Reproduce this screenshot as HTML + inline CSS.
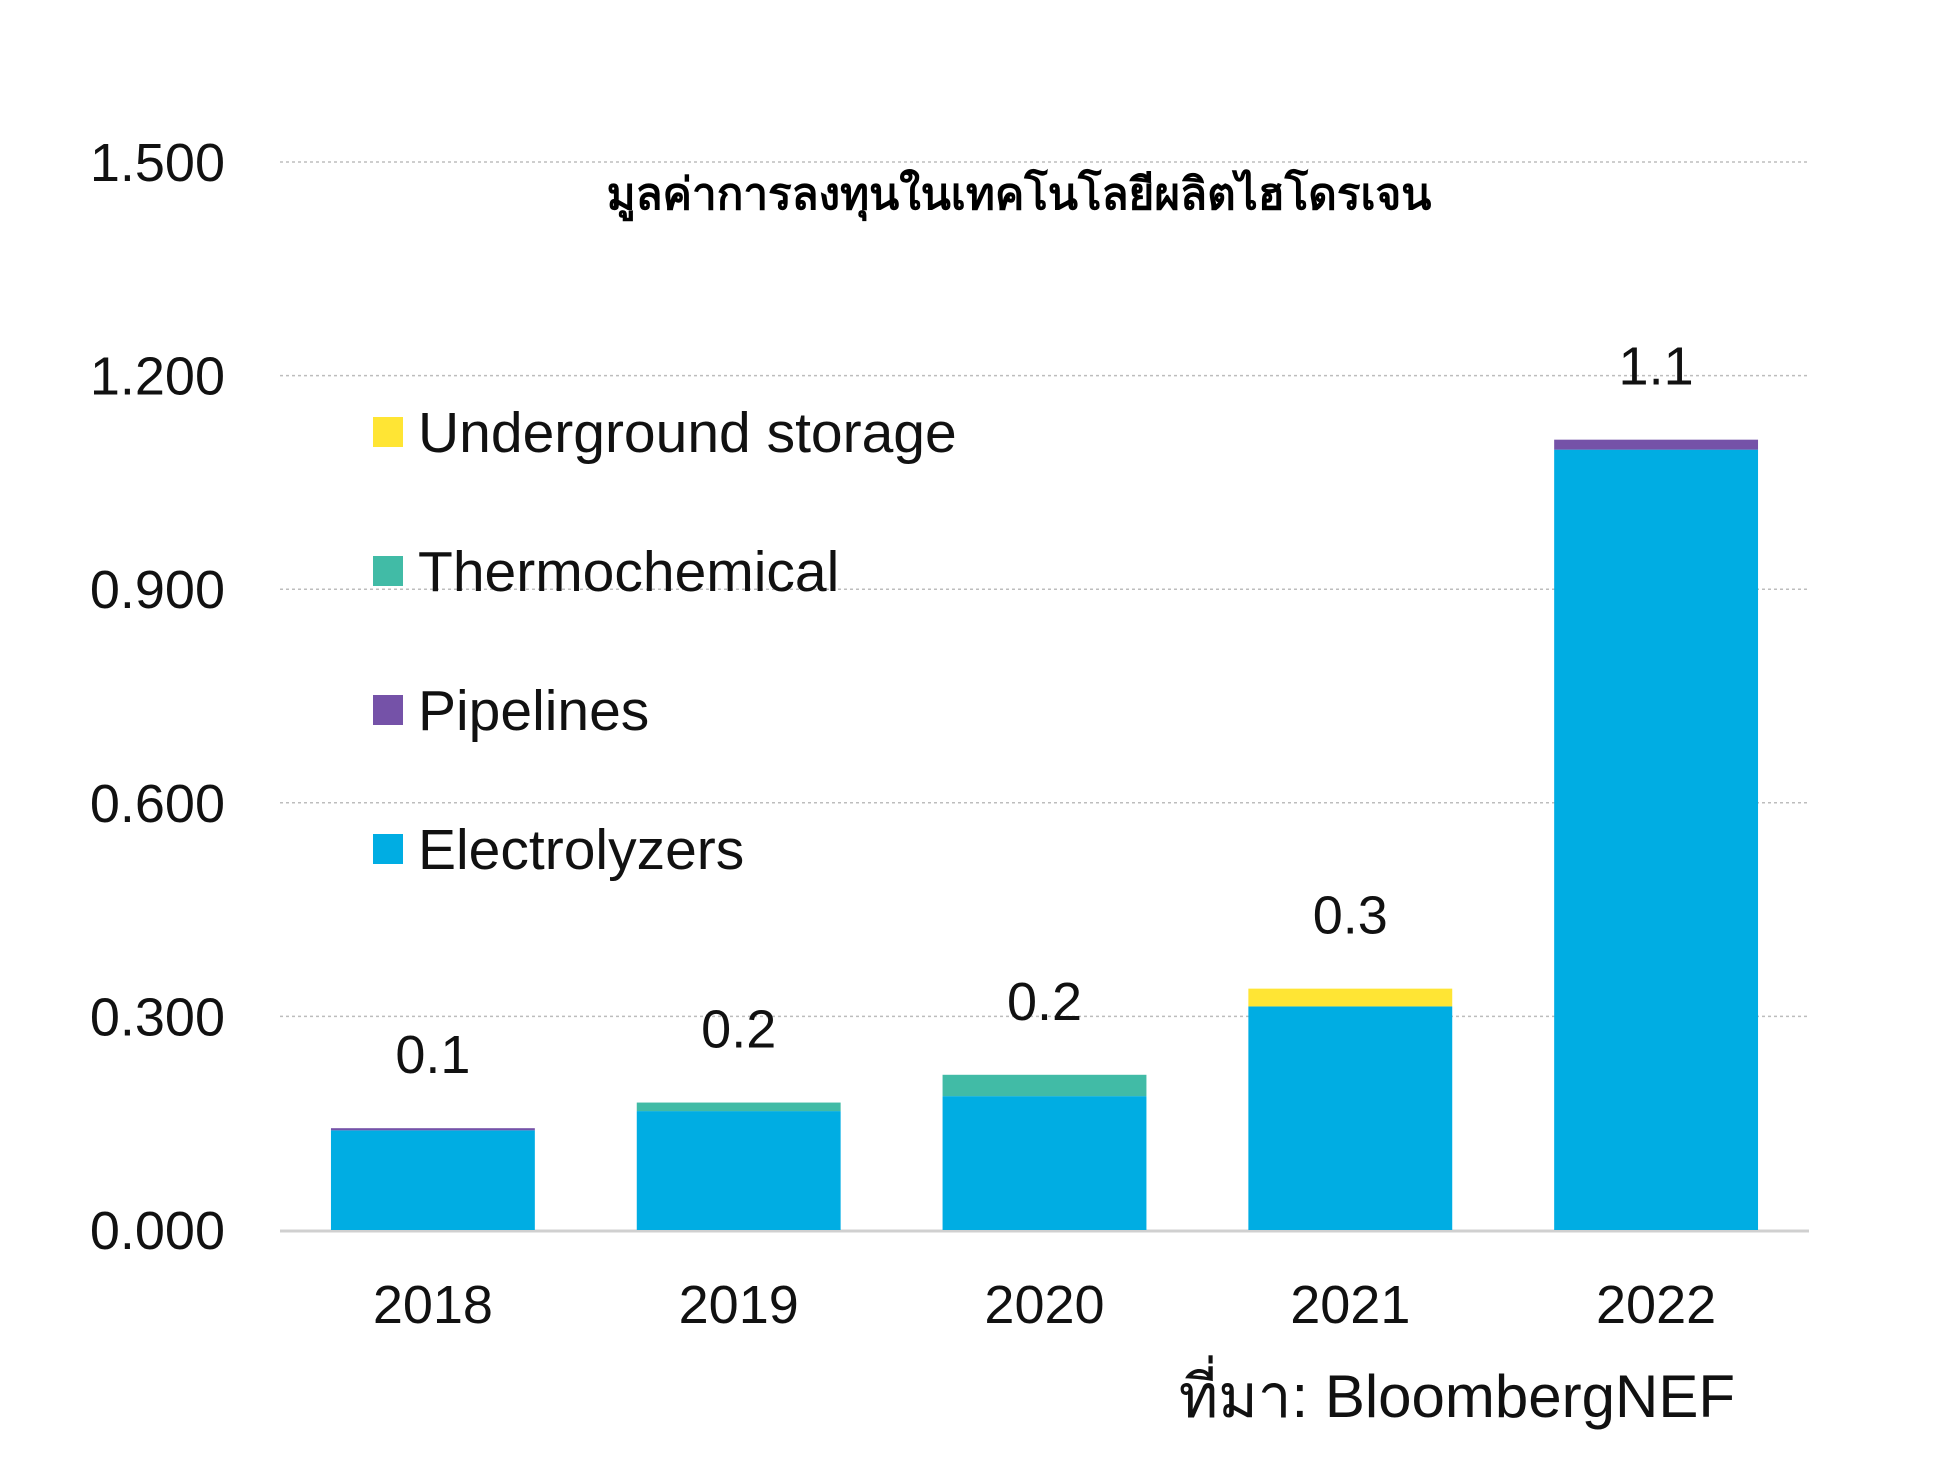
<!DOCTYPE html>
<html><head><meta charset="utf-8">
<style>
html,body{margin:0;padding:0;background:#fff;}
svg{display:block;font-family:"Liberation Sans","Noto Sans CJK SC",sans-serif;}
</style></head>
<body>
<svg id="chart" width="1951" height="1457" viewBox="0 0 1951 1457" xmlns="http://www.w3.org/2000/svg">
<g id="grid"></g>
<g id="yticks"></g>
<g id="bars"></g>
<g id="labels"></g>
<g id="xticks"></g>
<text x="1019" y="209" text-anchor="middle" font-size="44" font-weight="bold" font-family="'Liberation Sans','Noto Sans CJK SC',sans-serif">มูลค่าการลงทุนในเทคโนโลยีผลิตไฮโดรเจน</text>
<g id="legend"></g>
<text x="1735" y="1417" text-anchor="end" font-size="60" fill="#111">ที่มา: BloombergNEF</text>
</svg>
<script>
const categories = ["2018","2019","2020","2021","2022"];
const electrolyzers = [0.140,0.167,0.188,0.314,1.096];
const pipelines = [0.003,0,0,0,0.014];
const thermochemical = [0,0.012,0.030,0,0];
const undergroundStorage = [0,0,0,0.025,0];
const totalLabels = ["0.1","0.2","0.2","0.3","1.1"];
const yTicks = [0,0.3,0.6,0.9,1.2,1.5];
const yTickLabels = ["0.000","0.300","0.600","0.900","1.200","1.500"];

const NS="http://www.w3.org/2000/svg";
const plotL=280, plotR=1809, y0=1230, y15=162;
const yMax=1.5;
function y(v){return y0-(v/yMax)*(y0-y15);}
const band=(plotR-plotL)/categories.length;
function xc(i){return plotL+band*(i+0.5);}
const barW=band*2/3;
function mk(tag,attrs,parent){const e=document.createElementNS(NS,tag);for(const k in attrs)e.setAttribute(k,attrs[k]);parent.appendChild(e);return e;}

const grid=document.getElementById('grid'), yt=document.getElementById('yticks');
yTicks.forEach((t,i)=>{
  if(t>0){
    const l=mk('line',{x1:plotL,x2:plotR,y1:y(t),y2:y(t),stroke:'#bdbdbd','stroke-width':1.5,'stroke-dasharray':'3 3'},grid);
    
    
  }
  const tx=mk('text',{x:225,y:y(t)+19,'text-anchor':'end','font-size':54,fill:'#111'},yt);
  tx.textContent=yTickLabels[i];
  
  
});
const base=mk('line',{x1:plotL,x2:plotR,y1:y0+1,y2:y0+1,stroke:'#d0d0d0','stroke-width':3},grid);



const series=[
 {name:'electrolyzers',vals:electrolyzers,color:'#00ade3'},
 {name:'pipelines',vals:pipelines,color:'#7552a8'},
 {name:'thermochemical',vals:thermochemical,color:'#41bba6'},
 {name:'underground-storage',vals:undergroundStorage,color:'#ffe534'}
];
const bars=document.getElementById('bars'), labs=document.getElementById('labels'), xt=document.getElementById('xticks');
categories.forEach((c,i)=>{
  let cum=0;
  series.forEach(s=>{
    const v=s.vals[i];
    if(v>0){
      const r=mk('rect',{x:xc(i)-barW/2,y:y(cum+v),width:barW,height:y(cum)-y(cum+v),fill:s.color},bars);
      
      
    }
    cum+=v;
  });
  const t=mk('text',{x:xc(i),y:y(cum)-74+19,'text-anchor':'middle','font-size':54,fill:'#111'},labs);
  t.textContent=totalLabels[i];
  
  
  const xl=mk('text',{x:xc(i),y:1323,'text-anchor':'middle','font-size':54,fill:'#111'},xt);
  xl.textContent=c;
  
  
});

const legendItems=[["Underground storage","#ffe534"],["Thermochemical","#41bba6"],["Pipelines","#7552a8"],["Electrolyzers","#00ade3"]];
const lg=document.getElementById('legend');
legendItems.forEach((it,i)=>{
  const cy=432+i*139;
  const g=mk('g',{},lg);
  
  
  mk('rect',{x:373,y:cy-15,width:30,height:30,fill:it[1]},g);
  const t=mk('text',{x:418,y:cy+20,'font-size':57,fill:'#111'},g);
  t.textContent=it[0];
});
</script>
</body></html>
